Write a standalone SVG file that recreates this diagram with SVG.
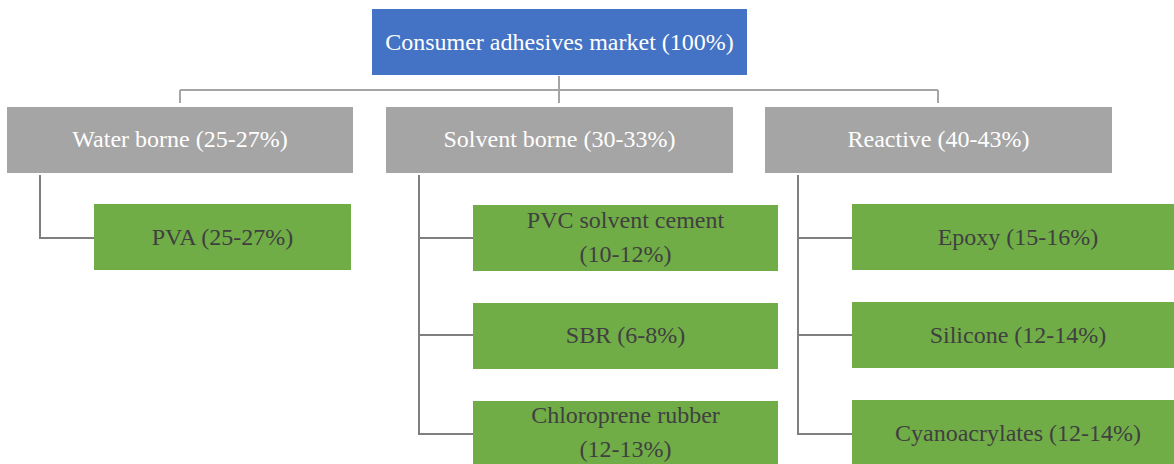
<svg xmlns="http://www.w3.org/2000/svg" width="1174" height="464" viewBox="0 0 1174 464">
<style>
text{font-family:'Liberation Serif','Times New Roman',serif;font-size:24px;text-anchor:middle}
.top{fill:#4472C4}
.mid{fill:#A5A5A5}
.leaf{fill:#70AD47}
.w{fill:#FFFFFF}
.d{fill:#404040}
.c1{stroke:#A5A5A5;stroke-width:2;fill:none}
.c2{stroke:#7F7F7F;stroke-width:2;fill:none}
</style>
<rect width="1174" height="464" fill="#FFFFFF"/>
<g id="connectors">
<path class="c1" d="M559,76V103M180,90H938M180,90V103M938,90V103"/>
<path class="c2" d="M40,175V238H94"/>
<path class="c2" d="M419,175V434H473M419,238H473M419,335H473"/>
<path class="c2" d="M798,175V434H852M798,238H852M798,335H852"/>
</g>
<g id="root"><rect class="top" x="372" y="9" width="375" height="66"/><text class="w" x="559.5" y="50">Consumer adhesives market (100%)</text></g>
<g id="water"><rect class="mid" x="7" y="107" width="346" height="66"/><text class="w" x="180" y="147">Water borne (25-27%)</text></g>
<g id="solvent"><rect class="mid" x="386" y="107" width="347" height="66"/><text class="w" x="559.5" y="147">Solvent borne (30-33%)</text></g>
<g id="reactive"><rect class="mid" x="765" y="107" width="347" height="66"/><text class="w" x="938.5" y="147">Reactive (40-43%)</text></g>
<g id="pva"><rect class="leaf" x="94" y="204" width="257" height="66"/><text class="d" x="222.5" y="245">PVA (25-27%)</text></g>
<g id="pvc"><rect class="leaf" x="473" y="205" width="305" height="66"/><text class="d" x="625.5" y="228">PVC solvent cement</text><text class="d" x="625.5" y="262">(10-12%)</text></g>
<g id="sbr"><rect class="leaf" x="473" y="303" width="305" height="66"/><text class="d" x="625.5" y="343">SBR (6-8%)</text></g>
<g id="chloroprene"><rect class="leaf" x="473" y="401" width="305" height="66"/><text class="d" x="625.5" y="423">Chloroprene rubber</text><text class="d" x="625.5" y="457">(12-13%)</text></g>
<g id="epoxy"><rect class="leaf" x="852" y="204" width="332" height="66"/><text class="d" x="1018" y="245">Epoxy (15-16%)</text></g>
<g id="silicone"><rect class="leaf" x="852" y="302" width="332" height="66"/><text class="d" x="1018" y="343">Silicone (12-14%)</text></g>
<g id="cyano"><rect class="leaf" x="852" y="400" width="332" height="66"/><text class="d" x="1018" y="441">Cyanoacrylates (12-14%)</text></g>
</svg>
